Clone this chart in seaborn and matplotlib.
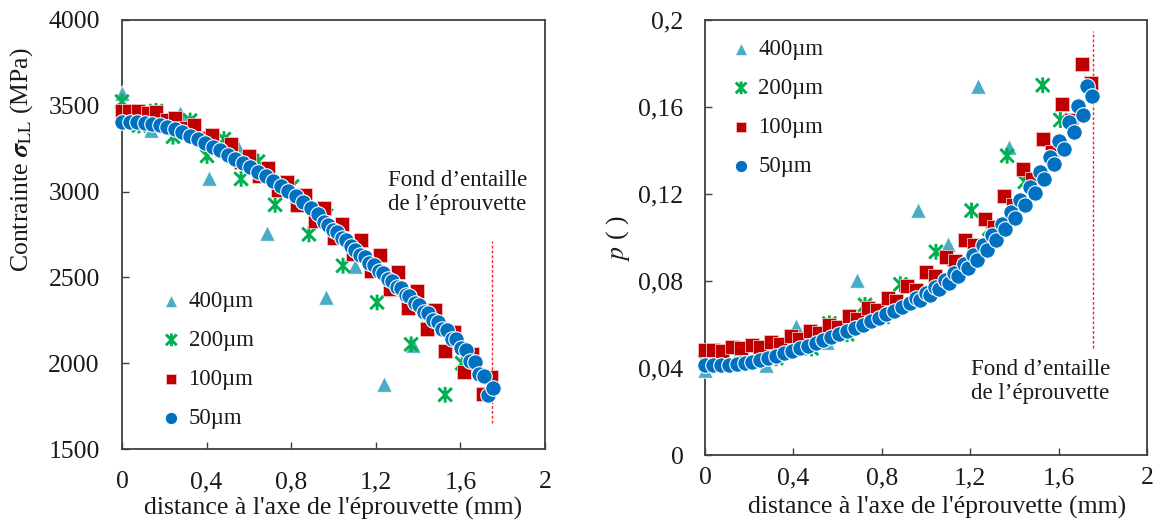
import matplotlib
matplotlib.use("Agg")
import matplotlib.pyplot as plt
from matplotlib.path import Path
import pandas as pd
import seaborn as sns

sns.set_theme(style="white")
plt.rcParams['font.family'] = ['Liberation Serif', 'DejaVu Serif']
plt.rcParams['mathtext.fontset'] = 'stix'

# ---------------- data ----------------
series_labels = ["400µm", "200µm", "100µm", "50µm"]

# 400 µm
x400 = [0.0, 0.1375, 0.275, 0.4125, 0.55, 0.6875, 0.825, 0.9625, 1.1, 1.2375, 1.375]
s400 = [3574, 3360, 3457, 3080, 3261, 2761, 2980, 2388, 2565, 1878, 2104]
p400 = [0.039, 0.042, 0.0414, 0.0595, 0.052, 0.0805, 0.066, 0.1127, 0.097, 0.1696, 0.1418]

# 200 µm
x200 = [0.0, 0.080, 0.161, 0.241, 0.322, 0.402, 0.482, 0.563, 0.643, 0.724, 0.804,
        0.884, 0.965, 1.045, 1.126, 1.206, 1.286, 1.367, 1.447, 1.528, 1.608]
s200 = [3525, 3385, 3470, 3320, 3414, 3208, 3306, 3074, 3175, 2923, 3030,
        2751, 2860, 2568, 2680, 2354, 2480, 2110, 2200, 1816, 2000]
p200 = [0.043, 0.0425, 0.042, 0.046, 0.0445, 0.052, 0.049, 0.0605, 0.0555, 0.069, 0.0635,
        0.0785, 0.0725, 0.0934, 0.0850, 0.1124, 0.104, 0.1376, 0.1256, 0.170, 0.154]

# 100 µm
x100 = [0.0, 0.035, 0.075, 0.123, 0.163, 0.211, 0.251, 0.299, 0.339, 0.387, 0.427,
        0.475, 0.515, 0.562, 0.602, 0.650, 0.690, 0.738, 0.778, 0.826, 0.866,
        0.914, 0.954, 1.002, 1.042, 1.090, 1.130, 1.178, 1.218, 1.266, 1.306,
        1.354, 1.394, 1.441, 1.481, 1.529, 1.569, 1.617, 1.657, 1.705, 1.745]
s100 = [3470, 3472, 3472, 3458, 3464, 3420, 3429, 3370, 3388, 3310, 3330,
        3240, 3278, 3170, 3208, 3090, 3138, 3010, 3058, 2920, 2980,
        2830, 2905, 2730, 2810, 2635, 2716, 2540, 2629, 2430, 2529,
        2320, 2423, 2200, 2310, 2070, 2182, 1950, 2055, 1819, 1917]
p100 = [0.0483, 0.0483, 0.0480, 0.0495, 0.0490, 0.0505, 0.0497, 0.0520, 0.0510, 0.0545, 0.0535,
        0.0570, 0.0560, 0.0600, 0.0590, 0.0638, 0.0625, 0.0676, 0.0665, 0.0723, 0.0710,
        0.0777, 0.0760, 0.0842, 0.0822, 0.0909, 0.0890, 0.0989, 0.0965, 0.1085, 0.1050,
        0.1192, 0.1149, 0.1315, 0.1269, 0.1453, 0.1395, 0.1614, 0.1540, 0.1796, 0.1709]

# 50 µm
x50 = [0.0, 0.036, 0.071, 0.107, 0.143, 0.179, 0.214, 0.250, 0.286, 0.321, 0.357,
       0.393, 0.429, 0.464, 0.500, 0.536, 0.571, 0.607, 0.643, 0.679, 0.714,
       0.750, 0.786, 0.821, 0.857, 0.893, 0.929,
       0.955, 0.975, 0.998, 1.018, 1.041, 1.061, 1.084, 1.104, 1.127, 1.147,
       1.170, 1.190, 1.213, 1.233, 1.256, 1.276, 1.299, 1.317, 1.342, 1.359,
       1.384, 1.404, 1.427, 1.448, 1.470, 1.493, 1.515, 1.535, 1.561, 1.580,
       1.603, 1.625, 1.645, 1.668, 1.690, 1.711, 1.730, 1.753]
s50 = [3407, 3406, 3404, 3400, 3394, 3386, 3376, 3362, 3345, 3326, 3305,
       3284, 3262, 3240, 3216, 3192, 3168, 3142, 3116, 3089, 3062,
       3033, 3003, 2972, 2940, 2906, 2872,
       2820, 2808, 2774, 2762, 2728, 2717, 2683, 2662, 2628, 2617,
       2583, 2572, 2538, 2527, 2492, 2480, 2446, 2436, 2399, 2390,
       2352, 2340, 2299, 2295, 2250, 2243, 2197, 2193, 2140, 2141,
       2088, 2078, 2010, 2005, 1935, 1925, 1815, 1854]
p50 = [0.0414, 0.0414, 0.0415, 0.0416, 0.0418, 0.0422, 0.0428, 0.0437, 0.0447, 0.0457, 0.0467,
       0.0478, 0.0490, 0.0502, 0.0515, 0.0528, 0.0542, 0.0556, 0.0570, 0.0584, 0.0598,
       0.0614, 0.0630, 0.0646, 0.0663, 0.0681, 0.0700,
       0.0720, 0.0714, 0.0745, 0.0737, 0.0772, 0.0761, 0.0803, 0.0790, 0.0838, 0.0822,
       0.0876, 0.0858, 0.0918, 0.0897, 0.0966, 0.0943, 0.1011, 0.0989, 0.1062, 0.1038,
       0.1116, 0.1088, 0.1172, 0.1150, 0.1234, 0.1206, 0.1300, 0.1270, 0.1372, 0.1338,
       0.1445, 0.1407, 0.1530, 0.1484, 0.1605, 0.1563, 0.1698, 0.1650]

x_ticks = [0, 0.4, 0.8, 1.2, 1.6, 2]
x_ticklabels = ["0", "0,4", "0,8", "1,2", "1,6", "2"]
s_ticks = [1500, 2000, 2500, 3000, 3500, 4000]
s_ticklabels = ["1500", "2000", "2500", "3000", "3500", "4000"]
p_ticks = [0, 0.04, 0.08, 0.12, 0.16, 0.2]
p_ticklabels = ["0", "0,04", "0,08", "0,12", "0,16", "0,2"]

notch_text = "Fond d\u2019entaille\nde l\u2019éprouvette"

# ---------------- styles ----------------
c400, c200, c100, c50 = "#4BACC6", "#00B050", "#C00000", "#0070C0"
star = Path([(0, -1), (0, 1), (-0.85, -0.85), (0.85, 0.85), (-0.85, 0.85), (0.85, -0.85)],
            [Path.MOVETO, Path.LINETO, Path.MOVETO, Path.LINETO, Path.MOVETO, Path.LINETO])
txt_color = "#1a1a1a"
spine_color = "#404040"
FS = 18.5

fig = plt.figure(figsize=(11.64, 5.29), dpi=100)
axL = fig.add_axes([122 / 1164, 1 - 449 / 529, 423 / 1164, 429 / 529])
axR = fig.add_axes([705 / 1164, 1 - 455 / 529, 442 / 1164, 435 / 529])


def draw(ax, ycol, d400, d200, d100, d50):
    sns.scatterplot(data=d400, x="x", y=ycol, ax=ax, marker="^", s=125, color=c400,
                    edgecolor="white", linewidth=0.6, clip_on=False, label=series_labels[0], zorder=3)
    sns.scatterplot(data=d200, x="x", y=ycol, ax=ax, marker=star, s=130, color=c200,
                    edgecolor=c200, facecolor="none", linewidth=2.1, clip_on=False,
                    label=series_labels[1], zorder=4)
    sns.scatterplot(data=d100, x="x", y=ycol, ax=ax, marker="s", s=95, color=c100,
                    edgecolor="#f5c0c0", linewidth=0.6, clip_on=False, label=series_labels[2], zorder=5)
    sns.scatterplot(data=d50, x="x", y=ycol, ax=ax, marker="o", s=125, color=c50,
                    edgecolor="white", linewidth=0.8, clip_on=False, label=series_labels[3], zorder=6)


d400 = pd.DataFrame({"x": x400, "s": s400, "p": p400})
d200 = pd.DataFrame({"x": x200, "s": s200, "p": p200})
d100 = pd.DataFrame({"x": x100, "s": s100, "p": p100})
d50 = pd.DataFrame({"x": x50, "s": s50, "p": p50})

draw(axL, "s", d400, d200, d100, d50)
draw(axR, "p", d400, d200, d100, d50)

for ax, yt, ytl, ylim in [(axL, s_ticks, s_ticklabels, (1500, 4000)),
                           (axR, p_ticks, p_ticklabels, (0, 0.2))]:
    ax.set_xlim(0, 2)
    ax.set_ylim(*ylim)
    ax.set_xticks(x_ticks)
    ax.set_xticklabels(x_ticklabels)
    ax.set_yticks(yt)
    ax.set_yticklabels(ytl)
    for sp in ax.spines.values():
        sp.set_color(spine_color)
        sp.set_linewidth(1.3)
        sp.set_visible(True)
    ax.tick_params(axis="both", direction="in", length=5, width=1.0, color=spine_color,
                   labelsize=FS, labelcolor=txt_color, top=False, right=False,
                   bottom=True, left=True)

axL.tick_params(axis="x", pad=16)
axL.tick_params(axis="y", pad=16)
axR.tick_params(axis="x", pad=9)
axR.tick_params(axis="y", pad=15.5)

xlab = "distance à l'axe de l'éprouvette (mm)"
axL.set_xlabel(xlab, fontsize=FS, color=txt_color, va="top")
axR.set_xlabel(xlab, fontsize=FS, color=txt_color, va="top")
axL.xaxis.set_label_coords(0.498, -0.112)
axR.xaxis.set_label_coords(0.526, -0.095)

axL.set_ylabel(r"Contrainte $\boldsymbol{\sigma}_{\mathrm{LL}}$ (MPa)", fontsize=FS, color=txt_color)
axL.yaxis.set_label_coords(-0.206, 0.675)
axR.set_ylabel(r"$p$ ( )", fontsize=FS, color=txt_color)
axR.yaxis.set_label_coords(-0.166, 0.499)

# notch bottom markers
axL.plot([1.75, 1.75], [1650, 2710], ls=(0, (2, 1.5)), color="#ff2020", lw=1.0, zorder=2)
axR.plot([1.755, 1.755], [0.049, 0.195], ls=(0, (2, 1.5)), color="#ff2020", lw=1.0, zorder=2)
axL.text(1.256, 2996, notch_text, fontsize=16.5, color=txt_color, ha="left", va="center",
         linespacing=1.2)
axR.text(1.205, 0.0337, notch_text, fontsize=16.5, color=txt_color, ha="left", va="center",
         linespacing=1.2)

# legends
axL.legend(loc="upper left", bbox_to_anchor=(0.095, 0.369), frameon=False, fontsize=16.5,
           handletextpad=0.35, labelspacing=0.79, borderaxespad=0, borderpad=0,
           handlelength=0.8, markerscale=0.8, labelcolor=txt_color)
axR.legend(loc="upper left", bbox_to_anchor=(0.061, 0.957), frameon=False, fontsize=16.5,
           handletextpad=0.35, labelspacing=0.79, borderaxespad=0, borderpad=0,
           handlelength=0.8, markerscale=0.8, labelcolor=txt_color)

fig.savefig("out.png", dpi=100)
